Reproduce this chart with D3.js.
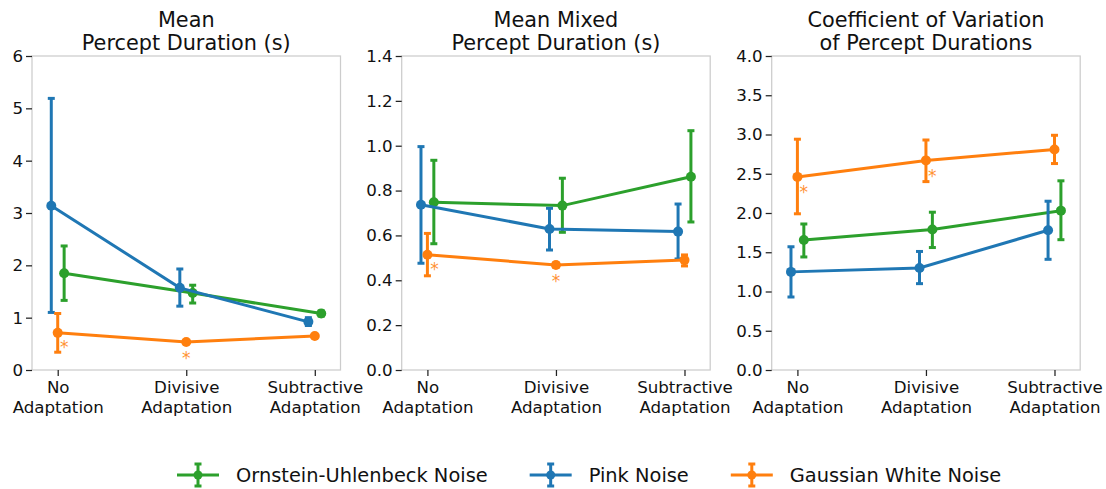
<!DOCTYPE html>
<html>
<head>
<meta charset="utf-8">
<script src="https://cdn.jsdelivr.net/npm/d3@7"></script>
<style>
body { margin: 0; background: #fff; }
svg text { font-family: "DejaVu Sans", sans-serif; fill: #111; }
</style>
</head>
<body>
<svg id="chart" width="1106" height="489"></svg>
<script>
// categories + series
const categories = [["No", "Adaptation"], ["Divisive", "Adaptation"], ["Subtractive", "Adaptation"]];
const seriesNames = ["Ornstein-Uhlenbeck Noise", "Pink Noise", "Gaussian White Noise"];
const seriesColors = ["#2ca02c", "#1f77b4", "#ff7f0e"];
const seriesDodge = [0.05, -0.05, 0];

// panel 1: mean percept duration (s)  -- rows = OU, Pink, Gaussian
const meanDur = [[1.85, 1.47, 1.08], [3.14, 1.57, 0.92], [0.71, 0.535, 0.65]];
const meanDurLo = [[1.33, 1.28, 1.03], [1.10, 1.22, 0.85], [0.34, 0.51, 0.63]];
const meanDurHi = [[2.37, 1.62, 1.13], [5.19, 1.93, 1.00], [1.08, 0.56, 0.67]];

// panel 2: mean mixed percept duration (s)
const mixedDur = [[0.748, 0.733, 0.862], [0.737, 0.629, 0.617], [0.514, 0.468, 0.49]];
const mixedDurLo = [[0.563, 0.614, 0.66], [0.476, 0.535, 0.495], [0.42, 0.458, 0.464]];
const mixedDurHi = [[0.935, 0.855, 1.067], [0.996, 0.721, 0.74], [0.609, 0.478, 0.513]];

// panel 3: coefficient of variation
const cvDur = [[1.656, 1.79, 2.03], [1.25, 1.30, 1.78], [2.46, 2.67, 2.81]];
const cvDurLo = [[1.44, 1.56, 1.66], [0.93, 1.10, 1.41], [1.99, 2.40, 2.63]];
const cvDurHi = [[1.86, 2.01, 2.41], [1.57, 1.51, 2.15], [2.94, 2.93, 2.99]];

// significance stars (category position, value)
const stars1 = [[0.05, 0.51], [1, 0.287]];
const stars2 = [[0.055, 0.468], [1, 0.412]];
const stars3 = [[0.05, 2.315], [1.05, 2.513]];

const yTicks1 = [0, 1, 2, 3, 4, 5, 6];
const yTicks2 = [0, 0.2, 0.4, 0.6, 0.8, 1.0, 1.2, 1.4];
const yTicks3 = [0, 0.5, 1.0, 1.5, 2.0, 2.5, 3.0, 3.5, 4.0];

const panels = [
  {title: ["Mean", "Percept Duration (s)"], mean: meanDur, lo: meanDurLo, hi: meanDurHi,
   stars: stars1, ticks: yTicks1, fmt: d3.format("d"), left: 32},
  {title: ["Mean Mixed", "Percept Duration (s)"], mean: mixedDur, lo: mixedDurLo, hi: mixedDurHi,
   stars: stars2, ticks: yTicks2, fmt: d3.format(".1f"), left: 401.7},
  {title: ["Coefficient of Variation", "of Percept Durations"], mean: cvDur, lo: cvDurLo, hi: cvDurHi,
   stars: stars3, ticks: yTicks3, fmt: d3.format(".1f"), left: 771.7}
];

var svg = d3.select("#chart");
const W = 308.5, plotTop = 56, plotBottom = 370;
const capW = 3.5;

panels.forEach(p => {
  const g = svg.append("g").attr("transform", `translate(${p.left},0)`);
  const x = d3.scaleLinear().domain([-0.2, 2.2]).range([0, W]);
  const y = d3.scaleLinear().domain([p.ticks[0], p.ticks[p.ticks.length - 1]]).range([plotBottom, plotTop]);

  // spines
  g.append("rect").attr("x", 0).attr("y", plotTop).attr("width", W).attr("height", plotBottom - plotTop)
    .attr("fill", "none").attr("stroke", "#cccccc").attr("stroke-width", 1.25);

  // y axis
  const ya = g.append("g").call(d3.axisLeft(y).tickValues(p.ticks).tickFormat(p.fmt).tickSize(6).tickPadding(3));
  ya.select(".domain").remove();
  ya.selectAll(".tick line").attr("stroke", "#222").attr("stroke-width", 1.25);
  ya.selectAll(".tick text").style("font-size", "16.67px").attr("fill", "#111");

  // x axis
  const xa = g.append("g").attr("transform", `translate(0,${plotBottom})`)
    .call(d3.axisBottom(x).tickValues([0, 1, 2]).tickFormat("").tickSize(6));
  xa.select(".domain").remove();
  xa.selectAll(".tick line").attr("stroke", "#222").attr("stroke-width", 1.25);
  xa.selectAll(".tick").each(function(d) {
    const t = d3.select(this).append("text").attr("text-anchor", "middle")
      .style("font-size", "16.67px").attr("fill", "#111");
    categories[d].forEach((s, k) => {
      t.append("tspan").attr("x", 0).attr("y", 23.3 + k * 19.3).text(s);
    });
  });

  // title
  const tt = g.append("text").attr("text-anchor", "middle").style("font-size", "20.8px");
  p.title.forEach((s, k) => tt.append("tspan").attr("x", W / 2).attr("y", 26.7 + k * 23.5).text(s));

  // series
  seriesNames.forEach((name, si) => {
    const col = seriesColors[si];
    const sg = g.append("g");
    const pts = p.mean[si].map((v, i) => ({xi: i + seriesDodge[si], v: v, lo: p.lo[si][i], hi: p.hi[si][i]}));
    sg.append("path").datum(pts)
      .attr("d", d3.line().x(d => x(d.xi)).y(d => y(d.v)))
      .attr("fill", "none").attr("stroke", col).attr("stroke-width", 3);
    const eb = sg.selectAll("g.err").data(pts).join("g").attr("class", "err");
    eb.append("line").attr("x1", d => x(d.xi)).attr("x2", d => x(d.xi))
      .attr("y1", d => y(d.lo)).attr("y2", d => y(d.hi))
      .attr("stroke", col).attr("stroke-width", 3);
    eb.append("line").attr("x1", d => x(d.xi) - capW).attr("x2", d => x(d.xi) + capW)
      .attr("y1", d => y(d.lo)).attr("y2", d => y(d.lo))
      .attr("stroke", col).attr("stroke-width", 3);
    eb.append("line").attr("x1", d => x(d.xi) - capW).attr("x2", d => x(d.xi) + capW)
      .attr("y1", d => y(d.hi)).attr("y2", d => y(d.hi))
      .attr("stroke", col).attr("stroke-width", 3);
    sg.selectAll("circle").data(pts).join("circle")
      .attr("cx", d => x(d.xi)).attr("cy", d => y(d.v)).attr("r", 5)
      .attr("fill", col);
  });

  // stars
  g.selectAll("text.star").data(p.stars).join("text").attr("class", "star")
    .attr("x", d => x(d[0])).attr("y", d => y(d[1]) + 9.5)
    .attr("text-anchor", "middle").style("font-size", "17px")
    .style("fill", "#ff7f0e").style("opacity", 0.85).text("*");
});

// legend
let lx = 177;
const ly = 475;
seriesNames.forEach((name, si) => {
  const col = seriesColors[si];
  const lg = svg.append("g");
  lg.append("line").attr("x1", lx).attr("x2", lx + 42).attr("y1", ly).attr("y2", ly)
    .attr("stroke", col).attr("stroke-width", 3);
  const cx = lx + 21;
  lg.append("line").attr("x1", cx).attr("x2", cx).attr("y1", ly - 11).attr("y2", ly + 11)
    .attr("stroke", col).attr("stroke-width", 3);
  [ly - 11, ly + 11].forEach(yy => lg.append("line").attr("x1", cx - capW).attr("x2", cx + capW)
    .attr("y1", yy).attr("y2", yy).attr("stroke", col).attr("stroke-width", 3));
  lg.append("circle").attr("cx", cx).attr("cy", ly).attr("r", 4.5).attr("fill", col);
  const txt = lg.append("text").attr("x", lx + 59).attr("y", ly + 7)
    .style("font-size", "19.4px").text(name);
  lx = lx + 59 + txt.node().getComputedTextLength() + 42;
});
</script>
</body>
</html>
